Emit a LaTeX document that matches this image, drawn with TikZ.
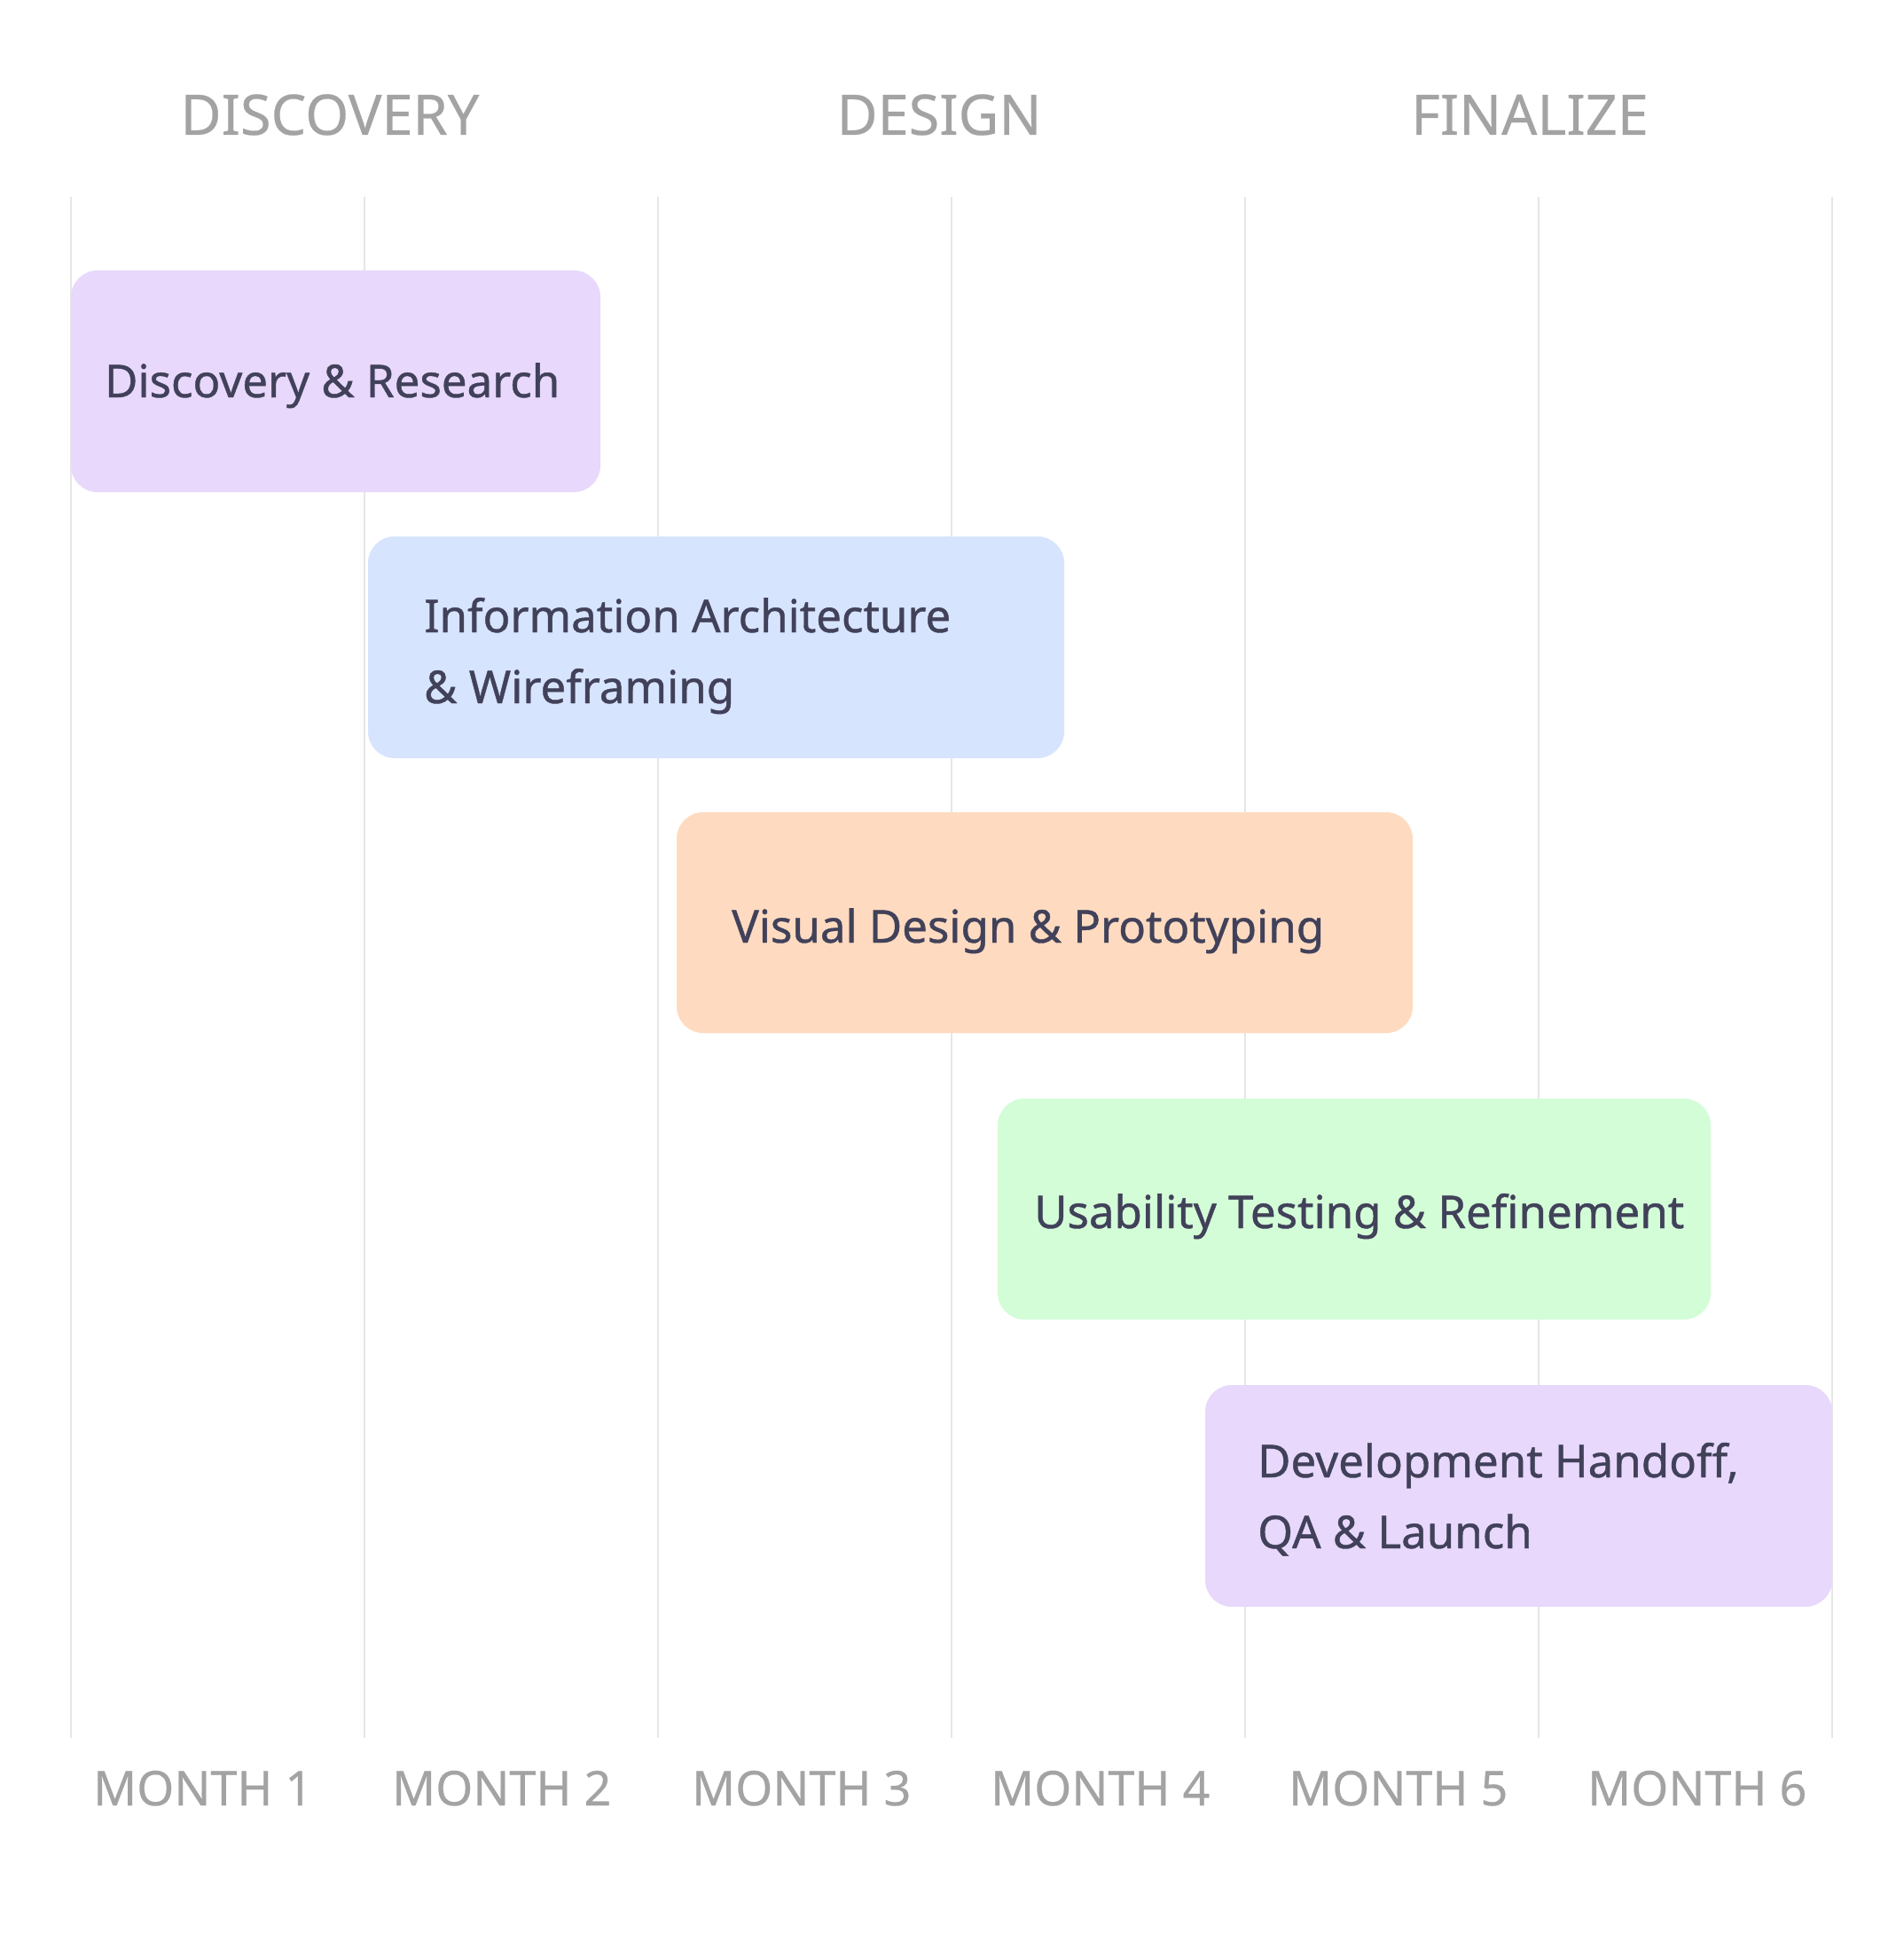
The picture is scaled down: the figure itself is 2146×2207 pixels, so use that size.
\documentclass[tikz,border=0pt]{standalone}
\usepackage{fontspec}
\setmainfont{Noto Sans}
\newfontfamily\taskfont[FakeBold=0.8]{Noto Sans}
\newfontfamily\labelfont[FakeBold=0.4]{Noto Sans}
\definecolor{gridc}{HTML}{E6E6E6}
\definecolor{labelc}{HTML}{A3A3A3}
\definecolor{taskc}{HTML}{41415A}
\definecolor{barpurple}{HTML}{E8D8FC}
\definecolor{barblue}{HTML}{D7E4FE}
\definecolor{barorange}{HTML}{FEDBC0}
\definecolor{bargreen}{HTML}{D3FDD7}
\begin{document}
\begin{tikzpicture}[x=1pt,y=-1pt,
  gridline/.style={draw=gridc, line width=1.5pt},
  bar/.style={rounded corners=30pt, draw=none},
  task/.style={anchor=base west, inner sep=0pt, text=taskc, font=\taskfont\fontsize{51}{80}\selectfont, align=left},
  phase/.style={anchor=base, inner sep=0pt, text=labelc, font=\labelfont\fontsize{63}{70}\selectfont},
  month/.style={anchor=base west, inner sep=0pt, text=labelc, font=\labelfont\fontsize{54}{60}\selectfont}]
\useasboundingbox[fill=white] (0,0) rectangle (2146,2207);
% grid
\foreach \i in {0,...,6}{
  \coordinate (gt\i) at (80+331*\i,222);
  \coordinate (gb\i) at (80+331*\i,1960);
  \draw[gridline] (gt\i) -- (gb\i);
}
% phase headers
\node[phase] (phDiscovery) at (372,152) {DISCOVERY};
\node[phase] (phDesign) at (1059,152) {DESIGN};
\node[phase] (phFinalize) at (1725,152) {FINALIZE};
% bars
\fill[bar, barpurple] (80,305) rectangle (677,555);
\fill[bar, barblue] (415,605) rectangle (1200,855);
\fill[bar, barorange] (763,916) rectangle (1593,1165);
\fill[bar, bargreen] (1125,1239) rectangle (1929,1488);
\fill[bar, barpurple] (1359,1562) rectangle (2066,1812);
% task labels
\node[task] (t1) at (118,448) {Discovery \& Research};
\node[task] (t2) at (478,793) {Information Architecture\\\& Wireframing};
\node[task] (t3) at (825,1063) {Visual Design \& Prototyping};
\node[task] (t4) at (1166,1385) {Usability Testing \& Refinement};
\node[task] (t5) at (1418,1746) {Development Handoff,\\QA \& Launch};
% month labels
\node[month] (m1) at (105,2036) {MONTH 1};
\node[month] (m2) at (442,2036) {MONTH 2};
\node[month] (m3) at (780,2036) {MONTH 3};
\node[month] (m4) at (1117,2036) {MONTH 4};
\node[month] (m5) at (1453,2036) {MONTH 5};
\node[month] (m6) at (1790,2036) {MONTH 6};
\end{tikzpicture}
\end{document}
